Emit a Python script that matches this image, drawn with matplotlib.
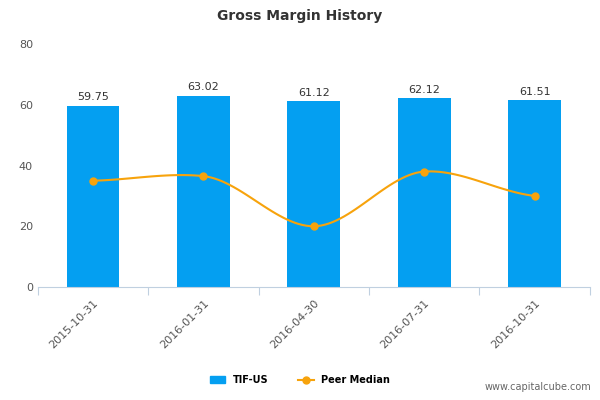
import numpy as np
import matplotlib
matplotlib.use("Agg")
import matplotlib.pyplot as plt

# data
dates = ["2015-10-31", "2016-01-31", "2016-04-30", "2016-07-31", "2016-10-31"]
tif_us = [59.75, 63.02, 61.12, 62.12, 61.51]
peer_median = [35.0, 36.5, 20.0, 38.0, 30.0]

fig = plt.figure(figsize=(6, 4), dpi=100)
ax = fig.add_axes([0.063, 0.2825, 0.92, 0.6075])

x = np.arange(len(dates))
bars = ax.bar(x, tif_us, width=0.48, color="#049ff1", zorder=2)
for xi, v in zip(x, tif_us):
    ax.text(xi, v + 1.2, "%.2f" % v, ha="center", va="bottom", fontsize=8, color="#333333")

# smooth curve through the peer points (cubic hermite, highcharts-like)
y = np.array(peer_median)
slopes = np.gradient(y) * 0.5
xs, ys = [], []
for i in range(len(x) - 1):
    t = np.linspace(0, 1, 30)
    h00 = 2*t**3 - 3*t**2 + 1
    h10 = t**3 - 2*t**2 + t
    h01 = -2*t**3 + 3*t**2
    h11 = t**3 - t**2
    xs.append(x[i] + t)
    ys.append(h00*y[i] + h10*slopes[i] + h01*y[i+1] + h11*slopes[i+1])
ax.plot(np.concatenate(xs), np.concatenate(ys), color="#f7a30c", lw=1.5, zorder=3)
ax.plot(x, y, "o", color="#f7a30c", ms=5, zorder=4)

ax.set_xlim(-0.5, len(dates) - 0.5)
ax.set_ylim(0, 80)
ax.set_yticks([0, 20, 40, 60, 80])
ax.set_xticks(np.arange(-0.5, len(dates), 1), minor=False)
ax.set_xticklabels([])
ax.set_xticks(x, minor=True)
ax.set_xticklabels(dates, minor=True, rotation=45, ha="right", rotation_mode="anchor", fontsize=8, color="#555555")
ax.tick_params(axis="x", which="major", length=6, color="#c0d0e0")
ax.tick_params(axis="x", which="minor", length=0, pad=8)
ax.tick_params(axis="y", length=0, labelsize=8, labelcolor="#555555")
for s in ["top", "right", "left"]:
    ax.spines[s].set_visible(False)
ax.spines["bottom"].set_color("#c0d0e0")

fig.text(0.5, 0.96, "Gross Margin History", ha="center", va="center", fontsize=10, fontweight="bold", color="#333333")

from matplotlib.patches import Patch
from matplotlib.lines import Line2D
handles = [Patch(color="#049ff1", label="TIF-US"),
           Line2D([], [], color="#f7a30c", marker="o", ms=5, label="Peer Median")]
fig.legend(handles=handles, loc="center", bbox_to_anchor=(0.5, 0.05), ncol=2, frameon=False,
           prop={"size": 7, "weight": "bold"}, handlelength=1.6, columnspacing=3)
fig.text(0.985, 0.02, "www.capitalcube.com", ha="right", va="bottom", fontsize=7, color="#666666")

fig.savefig("out.png")
